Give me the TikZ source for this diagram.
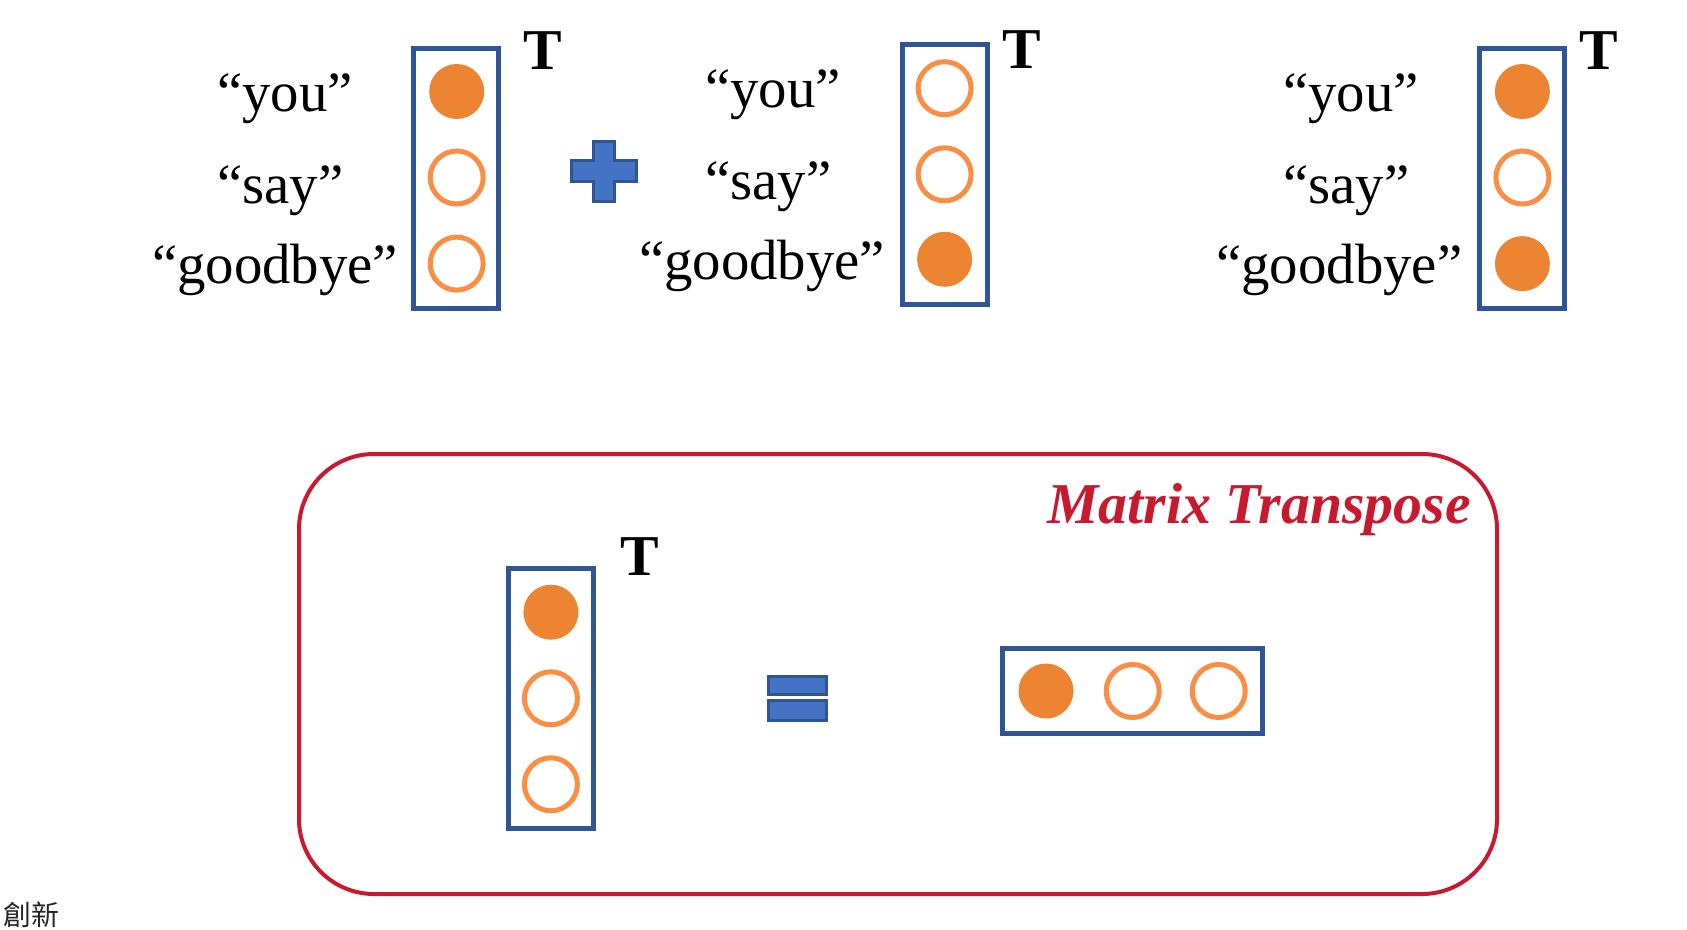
\documentclass[tikz,border=0pt]{standalone}
\usepackage{fontspec}
\setmainfont{Liberation Serif}
\newfontfamily\cjkfont{Noto Sans CJK TC}
\definecolor{boxblue}{HTML}{2F5597}
\definecolor{plusfill}{HTML}{4472C4}
\definecolor{dotfill}{HTML}{ED8431}
\definecolor{dotline}{HTML}{FA8E45}
\definecolor{tred}{HTML}{C8192F}
\begin{document}
\begin{tikzpicture}[x=1bp,y=-1bp,
  vecbox/.style={draw=boxblue,line width=5bp,minimum width=85bp,minimum height=260bp,inner sep=0pt},
  hvecbox/.style={draw=boxblue,line width=5bp,minimum width=260bp,minimum height=85bp,inner sep=0pt},
  full/.style={circle,fill=dotfill,minimum size=55bp,inner sep=0pt},
  empty/.style={circle,draw=dotline,line width=5bp,minimum size=53bp,inner sep=0pt},
  word/.style={anchor=base west,inner sep=0pt,font=\fontsize{57}{60}\selectfont},
  tlab/.style={anchor=base west,inner sep=0pt,font=\fontsize{58}{60}\selectfont\bfseries},
  sign/.style={fill=plusfill,draw=boxblue,line width=3bp}]
\useasboundingbox (0,0) rectangle (1687,929);
% column 1
\node[vecbox] (b1) at (456,178.5) {};
\node[full]  (c11) at (456.7,91.5) {};
\node[empty] (c12) at (456.7,177.5) {};
\node[empty] (c13) at (456.7,263.6) {};
\node[tlab] (t1) at (523,69) {T};
\node[word] (w11) at (217,111) {“you”};
\node[word] (w12) at (217,203) {“say”};
\node[word] (w13) at (152,283) {“goodbye”};
% plus
\draw[sign] (593,141) -- (614,141) -- (614,160) -- (636,160) -- (636,181) -- (614,181) -- (614,201) -- (593,201) -- (593,181) -- (571,181) -- (571,160) -- (593,160) -- cycle;
% column 2
\node[vecbox] (b2) at (944.6,174.3) {};
\node[empty] (c21) at (944.6,88.2) {};
\node[empty] (c22) at (944.6,174.3) {};
\node[full]  (c23) at (944.6,259.3) {};
\node[tlab] (t2) at (1002,68) {T};
\node[word] (w21) at (705,107.5) {“you”};
\node[word] (w22) at (705,199.5) {“say”};
\node[word] (w23) at (639,279.5) {“goodbye”};
% column 3
\node[vecbox] (b3) at (1522.4,178.5) {};
\node[full]  (c31) at (1522.4,91.5) {};
\node[empty] (c32) at (1522.4,177.5) {};
\node[full]  (c33) at (1522.4,263.6) {};
\node[tlab] (t3) at (1579,69) {T};
\node[word] (w31) at (1283,111) {“you”};
\node[word] (w32) at (1283,203) {“say”};
\node[word] (w33) at (1216,283) {“goodbye”};
% matrix transpose frame
\draw[tred,line width=4bp,rounded corners=75bp] (299,454) rectangle (1497,894);
\node[anchor=base east,inner sep=0pt,text=tred,font=\fontsize{58}{62}\selectfont\bfseries\itshape] (mt) at (1471,523) {Matrix Transpose};
\node[vecbox] (b4) at (550.9,698.3) {};
\node[full]  (c41) at (550.9,612.2) {};
\node[empty] (c42) at (550.9,698.3) {};
\node[empty] (c43) at (550.9,784.3) {};
\node[tlab] (t4) at (620,575) {T};
\draw[sign] (768,676) rectangle (826,694);
\draw[sign] (768,700) rectangle (826,720);
\node[hvecbox] (h) at (1132.5,691) {};
\node[full]  (h1) at (1046,691) {};
\node[empty] (h2) at (1132.7,691) {};
\node[empty] (h3) at (1218.7,691) {};
% watermark
\node[anchor=base west,inner sep=0pt,font=\cjkfont\fontsize{28}{30}\selectfont,text=black!85] (wm) at (3,925) {創新};
\end{tikzpicture}
\end{document}
